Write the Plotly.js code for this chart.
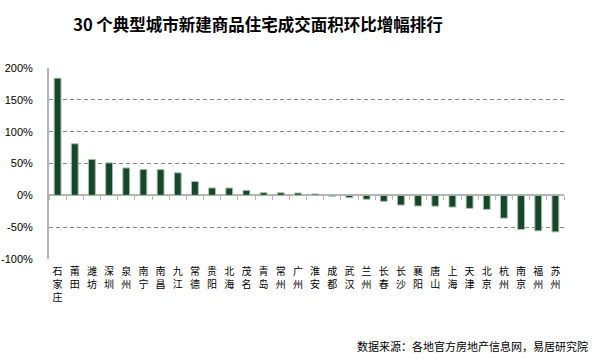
<!DOCTYPE html>
<html>
<head>
<meta charset="utf-8">
<script src="https://cdn.plot.ly/plotly-3.0.1.min.js"></script>
<style>html,body{margin:0;padding:0;background:#fff;}#chart{width:600px;height:359px;}</style>
</head>
<body>
<div id="chart"></div>
<script>
const cities = ['石家庄','莆田','潍坊','深圳','泉州','南宁','南昌','九江','常德','贵阳','北海','茂名','青岛','常州','广州','淮安','成都','武汉','兰州','长春','长沙','襄阳','唐山','上海','天津','北京','杭州','南京','福州','苏州'];
const growth = [184, 81, 56.5, 51, 43, 40.7, 40.5, 35.4, 21.7, 11.6, 11.5, 7.9, 4.2, 4.1, 3.7, 2.1, -1.5, -3.7, -6.3, -9.5, -15.3, -16.8, -17, -18.4, -20.5, -22.1, -35.8, -53.7, -55.8, -57.4];
const yTicks = [-100, -50, 0, 50, 100, 150, 200];
const yTickText = yTicks.map(v => v + '%');
const title = '30 个典型城市新建商品住宅成交面积环比增幅排行';
const source = '数据来源：各地官方房地产信息网，易居研究院';

const labels = cities.map(c => c.split('').join('<br>'));
const yMin = -100, yMax = 200;

const traces = [
  {
    type: 'bar',
    x: labels,
    y: growth,
    width: 0.4,
    marker: {color: '#17472b', line: {color: '#a9c2ae', width: 1}},
    hoverinfo: 'skip'
  },
  {
    type: 'scatter', mode: 'markers', x: [], y: [], xaxis: 'x2', yaxis: 'y', showlegend: false, hoverinfo: 'skip'
  }
];

const layout = {
  width: 600, height: 359,
  margin: {l: 49, r: 36, t: 68, b: 100},
  paper_bgcolor: '#ffffff', plot_bgcolor: '#ffffff',
  showlegend: false,
  bargap: 0.6,
  font: {family: 'Liberation Sans, Arial, sans-serif', color: '#000'},
  title: {
    text: '<b>' + title + '</b>',
    x: 0.43, xanchor: 'center', y: 0.93, yanchor: 'middle',
    font: {family: 'Noto Sans CJK SC, sans-serif', size: 16.5, color: '#000'}
  },
  xaxis: {
    type: 'category',
    showline: false, showgrid: false, zeroline: false, ticks: '',
    tickangle: 0,
    tickfont: {family: 'Noto Sans CJK SC, sans-serif', size: 10, color: '#000'},
    ticklabelstandoff: 5
  },
  xaxis2: {
    overlaying: 'x', anchor: 'free', position: (0 - yMin) / (yMax - yMin),
    range: [-0.5, cities.length - 0.5],
    tickmode: 'linear', tick0: -0.5, dtick: 1,
    ticks: 'outside', ticklen: 4, tickcolor: '#b5b5b5', tickwidth: 1,
    showticklabels: false, showline: false, showgrid: false, zeroline: false,
    fixedrange: true
  },
  yaxis: {
    range: [yMin, yMax],
    tickvals: yTicks, ticktext: yTickText,
    tickfont: {size: 11, color: '#000'},
    showline: true, linecolor: '#b5b5b5', linewidth: 2,
    showgrid: true, gridcolor: '#888888', gridwidth: 1, griddash: '4px,3px',
    zeroline: true, zerolinecolor: '#b5b5b5', zerolinewidth: 2,
    ticks: '', ticklabelstandoff: 12
  },
  annotations: [{
    text: source, xref: 'paper', yref: 'paper',
    x: (590 - 49) / 515, xanchor: 'right',
    y: -87 / 190.7, yanchor: 'middle',
    showarrow: false,
    font: {family: 'Noto Sans CJK SC, sans-serif', size: 11, color: '#000'}
  }]
};

Plotly.newPlot('chart', traces, layout, {displayModeBar: false, staticPlot: true});
</script>
</body>
</html>
